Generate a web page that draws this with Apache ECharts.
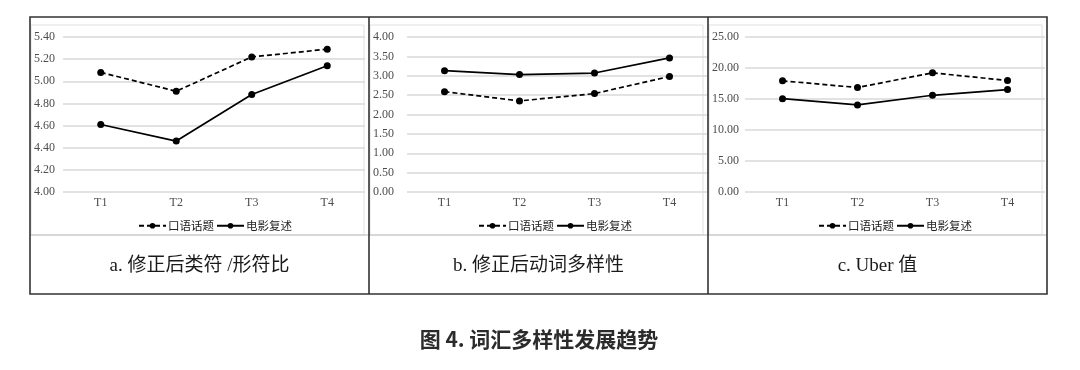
<!DOCTYPE html>
<html>
<head>
<meta charset="utf-8">
<script src="https://cdn.jsdelivr.net/npm/echarts@6/dist/echarts.min.js"></script>
<style>
html,body{margin:0;padding:0;background:#fff;}
#chart{width:1080px;height:370px;}
</style>
</head>
<body>
<div id="chart"></div>
<script>
var categories = ['T1', 'T2', 'T3', 'T4'];
var seriesNames = ['口语话题', '电影复述'];

// a. 修正后类符/形符比
var aSpoken = [5.08, 4.91, 5.22, 5.29];
var aFilm = [4.61, 4.46, 4.88, 5.14];
// b. 修正后动词多样性
var bSpoken = [2.59, 2.35, 2.54, 2.98];
var bFilm = [3.13, 3.03, 3.07, 3.46];
// c. Uber 值
var cSpoken = [17.93, 16.85, 19.22, 17.98];
var cFilm = [15.06, 14.04, 15.60, 16.52];

var yRanges = [
  {min: 4.0, max: 5.4, interval: 0.2},
  {min: 0, max: 4.0, interval: 0.5},
  {min: 0, max: 25, interval: 5}
];
var captions = ['a. 修正后类符 /形符比', 'b. 修正后动词多样性', 'c. Uber 值'];
var figTitle = '图 4. 词汇多样性发展趋势';

var serif = '"Liberation Serif", "Noto Sans CJK SC", serif';
var grids = [
  {left: 63, top: 37, width: 302, height: 155},
  {left: 407, top: 37, width: 300, height: 155},
  {left: 745, top: 37, width: 300, height: 155}
];
var labelMargins = [8, 13, 6];
var legendLefts = [133, 473, 813];
var panelX = [[30, 369], [369, 708], [708, 1047]];

var chart = echarts.init(document.getElementById('chart'), null, {renderer: 'canvas'});

var xAxes = [], yAxes = [], series = [], legends = [];
var dataSets = [[aSpoken, aFilm], [bSpoken, bFilm], [cSpoken, cFilm]];
for (var i = 0; i < 3; i++) {
  xAxes.push({
    type: 'category', gridIndex: i, data: categories, boundaryGap: true,
    axisLine: {show: false}, axisTick: {show: false},
    axisLabel: {color: '#4d4d4d', fontSize: 12, fontFamily: serif, margin: 5}
  });
  yAxes.push({
    type: 'value', gridIndex: i, min: yRanges[i].min, max: yRanges[i].max, interval: yRanges[i].interval,
    axisLine: {show: false}, axisTick: {show: false},
    axisLabel: {color: '#4d4d4d', fontSize: 12, fontFamily: serif, margin: labelMargins[i],
      formatter: function (v) { return v.toFixed(2); }},
    splitLine: {lineStyle: {color: '#d9d9d9', width: 1.5}}
  });
  for (var s = 0; s < 2; s++) {
    series.push({
      name: seriesNames[s], type: 'line', xAxisIndex: i, yAxisIndex: i,
      data: dataSets[i][s], symbol: 'circle', symbolSize: 7,
      lineStyle: {color: '#000', width: 1.7, type: s === 0 ? [5, 3] : 'solid'},
      itemStyle: {color: '#000'}, animation: false
    });
  }
  legends.push({
    data: seriesNames, left: legendLefts[i], top: 215, itemWidth: 27, itemHeight: 7, itemGap: 2,
    selectedMode: false,
    textStyle: {fontSize: 11.5, color: '#222', fontFamily: '"Noto Sans CJK SC", serif', padding: [0, 0, 0, -3]}
  });
}

var graphics = [];
for (var i = 0; i < 3; i++) {
  graphics.push({type: 'rect', shape: {x: panelX[i][0] + 1, y: 25, width: panelX[i][1] - panelX[i][0] - 6, height: 210},
    style: {fill: 'none', stroke: '#e0e0e0', lineWidth: 1}, silent: true});
  graphics.push({type: 'text', x: (panelX[i][0] + panelX[i][1]) / 2, y: 266,
    style: {text: captions[i], fontSize: 19, fontFamily: serif, fill: '#1a1a1a', align: 'center', verticalAlign: 'middle'}, silent: true});
}
graphics.push({type: 'line', shape: {x1: 30, y1: 235, x2: 1047, y2: 235}, style: {stroke: '#cfcfcf', lineWidth: 1.5}, silent: true});
graphics.push({type: 'rect', shape: {x: 30, y: 17, width: 1017, height: 277}, style: {fill: 'none', stroke: '#333', lineWidth: 1.6}, silent: true});
graphics.push({type: 'line', shape: {x1: 369, y1: 17, x2: 369, y2: 294}, style: {stroke: '#333', lineWidth: 1.6}, silent: true});
graphics.push({type: 'line', shape: {x1: 708, y1: 17, x2: 708, y2: 294}, style: {stroke: '#333', lineWidth: 1.6}, silent: true});
graphics.push({type: 'text', x: 539, y: 339,
  style: {text: figTitle, fontSize: 21, fontWeight: 'bold', fontFamily: '"Noto Sans CJK SC", sans-serif', fill: '#2b2b2b', align: 'center', verticalAlign: 'middle'}, silent: true});

chart.setOption({
  backgroundColor: '#fff',
  animation: false,
  grid: grids,
  xAxis: xAxes,
  yAxis: yAxes,
  legend: legends,
  series: series,
  graphic: graphics
});
</script>
</body>
</html>
